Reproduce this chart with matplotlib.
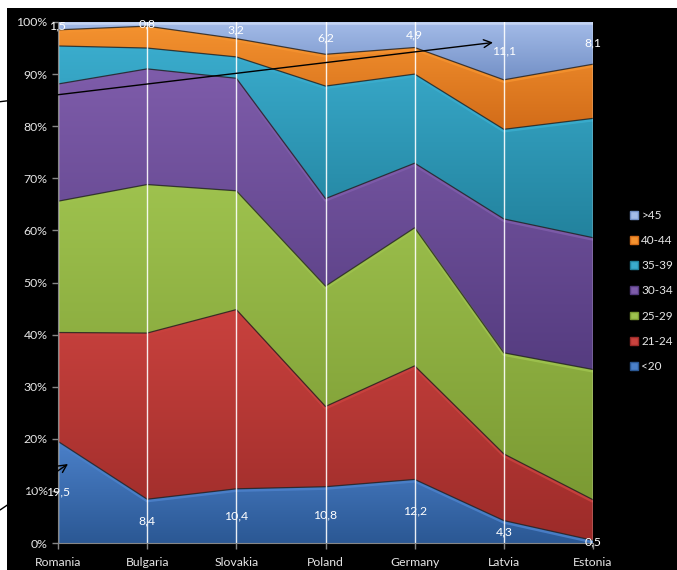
import numpy as np
import matplotlib
matplotlib.use('Agg')
import matplotlib.pyplot as plt
from matplotlib.patches import Rectangle, Patch
from matplotlib.colors import LinearSegmentedColormap
import matplotlib.transforms as mtransforms

plt.rcParams['font.family'] = ['Lato', 'DejaVu Sans']

countries = ["Romania", "Bulgaria", "Slovakia", "Poland", "Germany", "Latvia", "Estonia"]
age_groups = ["<20", "21-24", "25-29", "30-34", "35-39", "40-44", ">45"]
under20 = [19.5, 8.4, 10.4, 10.8, 12.2, 4.3, 0.5]
age21_24 = [20.9, 31.9, 34.4, 15.4, 21.8, 12.8, 7.8]
age25_29 = [25.2, 28.5, 22.8, 23.1, 26.5, 19.4, 25.0]
age30_34 = [22.5, 22.2, 21.6, 16.8, 12.4, 25.7, 25.3]
age35_39 = [7.3, 4.0, 4.1, 21.6, 17.1, 17.2, 22.9]
age40_44 = [3.1, 4.2, 3.5, 6.1, 5.1, 9.5, 10.4]
over45 = [1.5, 0.8, 3.2, 6.2, 4.9, 11.1, 8.1]

series = [under20, age21_24, age25_29, age30_34, age35_39, age40_44, over45]
colors = [('#4b80c9', '#2b5894'), ('#c9423e', '#9c2b29'), ('#9ec24e', '#7b9a33'),
          ('#7e5caa', '#553c80'), ('#3aaccd', '#22829d'), ('#f4922f', '#d26c19'),
          ('#a3bbe8', '#7390c6')]

W, H = 677, 570
fig = plt.figure(figsize=(W / 100, H / 100), dpi=100)
fig.patch.set_facecolor('white')
fig.add_artist(Rectangle((7 / W, 0), 1 - 7 / W, (H - 8) / H, transform=fig.transFigure,
                         facecolor='black', edgecolor='none', zorder=0))

ax = fig.add_axes([58 / W, (H - 543) / H, (593 - 58) / W, (543 - 22) / H])
ax.set_facecolor('black')
x = np.arange(len(countries))
data = np.array(series, dtype=float)
cum = np.cumsum(data, axis=0)
bottoms = np.vstack([np.zeros(len(x)), cum[:-1]])

for i in range(len(series)):
    lo, hi = bottoms[i], cum[i]
    poly = ax.fill_between(x, lo, hi, facecolor=colors[i][1], edgecolor='none', zorder=1)
    cmap = LinearSegmentedColormap.from_list('g', [colors[i][1], colors[i][0]])
    ymin, ymax = lo.min(), hi.max()
    grad = np.linspace(0, 1, 256).reshape(-1, 1)
    im = ax.imshow(grad, cmap=cmap, origin='lower', aspect='auto',
                   extent=[0, len(x) - 1, ymin, ymax], zorder=1.5, interpolation='bilinear')
    im.set_clip_path(poly.get_paths()[0], transform=ax.transData)
    # bevel: light band just below the top edge, dark line at the edge
    if i < len(series) - 1:
        off_dn = mtransforms.offset_copy(ax.transData, fig=fig, x=0, y=-1.6, units='dots')
        ax.plot(x, hi, color=colors[i][0], lw=2.2, alpha=0.9, transform=off_dn, zorder=2,
                solid_capstyle='butt')
        ax.plot(x, hi, color='#202020', lw=0.9, alpha=0.8, zorder=2.5)
    else:
        off_dn = mtransforms.offset_copy(ax.transData, fig=fig, x=0, y=-1.2, units='dots')
        ax.plot(x, hi, color='#c4d4f2', lw=1.8, transform=off_dn, zorder=2)

for xi in x:
    ax.axvline(xi, color='white', lw=1.0, zorder=3, alpha=0.9)

ax.set_xlim(0, len(x) - 1)
ax.set_ylim(0, 100)
ax.set_yticks(np.arange(0, 101, 10))
ax.set_yticklabels([f"{v}%" for v in range(0, 101, 10)])
ax.set_xticks(x)
ax.set_xticklabels(countries)
ax.tick_params(colors='#868686', labelcolor='#e6e6e6', labelsize=8.8, length=4, width=1)
ax.tick_params(axis='x', pad=6)
for s in ['top', 'right']:
    ax.spines[s].set_visible(False)
for s in ['left', 'bottom']:
    ax.spines[s].set_color('#868686')
    ax.spines[s].set_zorder(4)

def fmt(v):
    return f"{v:.1f}".replace('.', ',')

for xi in x:
    ax.text(xi, under20[xi] / 2, fmt(under20[xi]), color='white', fontsize=8.8,
            ha='center', va='center', zorder=5)
    ax.text(xi, 100 - over45[xi] / 2, fmt(over45[xi]), color='white', fontsize=8.8,
            ha='center', va='center', zorder=5)

handles = [Patch(facecolor=colors[i][0], edgecolor=colors[i][1], label=age_groups[i])
           for i in range(len(series))][::-1]
leg = fig.legend(handles=handles, loc='upper left', bbox_to_anchor=(630 / W, 1 - 210 / H),
                 frameon=False, fontsize=8.5, labelcolor='#e6e6e6', handlelength=0.65,
                 handleheight=0.65, handletextpad=0.3, labelspacing=1.2, borderaxespad=0,
                 borderpad=0)

ax.annotate('', xy=(493, H - 42.5), xycoords='figure pixels', xytext=(0, H - 101.7),
            textcoords='figure pixels',
            arrowprops=dict(arrowstyle='->', color='black', lw=1.0, mutation_scale=14,
                            shrinkA=0, shrinkB=0), annotation_clip=False, zorder=10)
ax.annotate('', xy=(68, H - 464), xycoords='figure pixels', xytext=(0, H - 510),
            textcoords='figure pixels',
            arrowprops=dict(arrowstyle='->', color='black', lw=1.0, mutation_scale=14,
                            shrinkA=0, shrinkB=0), annotation_clip=False, zorder=10)

fig.savefig('out.png', dpi=100, facecolor=fig.get_facecolor())
